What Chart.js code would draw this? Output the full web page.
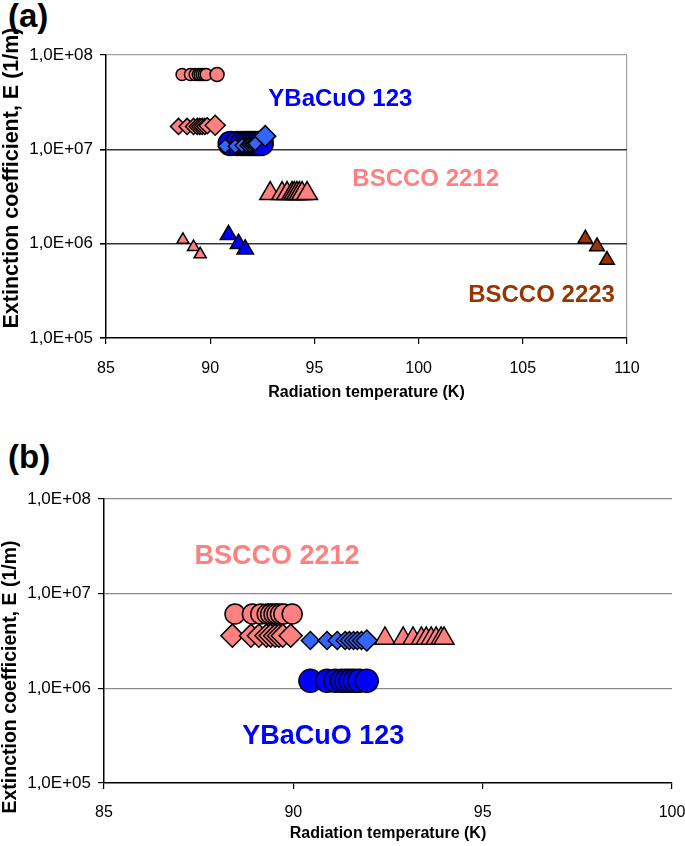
<!DOCTYPE html>
<html>
<head>
<meta charset="utf-8">
<script src="https://cdn.jsdelivr.net/npm/chart.js@4.4.1/dist/chart.umd.min.js"></script>
<style>
  body { margin: 0; width: 685px; height: 846px; overflow: hidden; background: #fff; }
  .panel-tag { position: absolute; left: 8px; font-family: 'Liberation Sans', Arial, sans-serif; font-weight: bold; font-size: 33px; line-height: 1; }
  canvas { position: absolute; left: 0; }
</style>
</head>
<body>
<div class="panel-tag" style="top:-1px">(a)</div>
<canvas id="chartA" width="685" height="420" style="top:0px"></canvas>
<div class="panel-tag" style="top:440px">(b)</div>
<canvas id="chartB" width="685" height="406" style="top:440px"></canvas>

<script>
'use strict'

const FONT = "'Liberation Sans', Arial, sans-serif"

const yTickValues = [1e5, 1e6, 1e7, 1e8]
const yTickLabels = ['1,0E+05', '1,0E+06', '1,0E+07', '1,0E+08']
const xTicksA = [85, 90, 95, 100, 105, 110]
const xTicksB = [85, 90, 95, 100]

const xTitle = 'Radiation temperature (K)'
const yTitle = 'Extinction coefficient, E (1/m)'
const labelsA = ['YBaCuO 123', 'BSCCO 2212', 'BSCCO 2223']
const labelsB = ['BSCCO 2212', 'YBaCuO 123']

// panel (a)
const aPinkCircleT = [88.65, 89.05, 89.28, 89.43, 89.52, 89.62, 89.72, 89.81, 90.33]
const aPinkCircleE = [6.2e7, 6.2e7, 6.2e7, 6.2e7, 6.2e7, 6.2e7, 6.2e7, 6.2e7, 6.2e7]
const aPinkDiamondT = [88.48, 88.89, 89.20, 89.38, 89.50, 89.62, 89.74, 89.86, 90.24]
const aPinkDiamondE = [1.75e7, 1.75e7, 1.75e7, 1.75e7, 1.75e7, 1.75e7, 1.75e7, 1.78e7, 1.8e7]
const aBlueCircleT = [90.96, 91.30, 91.54, 91.73, 91.88, 92.02, 92.17, 92.31, 92.45]
const aBlueCircleE = [1.15e7, 1.15e7, 1.15e7, 1.15e7, 1.15e7, 1.15e7, 1.15e7, 1.15e7, 1.15e7]
const aBlueDiamondT = [90.72, 91.20, 91.53, 91.77, 91.88, 92.00, 92.07, 92.16, 92.64]
const aBlueDiamondE = [1.08e7, 1.08e7, 1.1e7, 1.1e7, 1.12e7, 1.12e7, 1.14e7, 1.15e7, 1.38e7]
const aPinkTriT = [92.88, 93.45, 93.69, 93.93, 94.04, 94.16, 94.28, 94.41, 94.65]
const aPinkTriE = [3.4e6, 3.4e6, 3.4e6, 3.4e6, 3.4e6, 3.4e6, 3.4e6, 3.4e6, 3.4e6]
const aPinkSmallTriT = [88.69, 89.20, 89.52]
const aPinkSmallTriE = [1.10e6, 0.92e6, 0.77e6]
const aBlueTriT = [90.88, 91.36, 91.68]
const aBlueTriE = [1.24e6, 1.0e6, 0.87e6]
const aBrownTriT = [108.0, 108.56, 109.04]
const aBrownTriE = [1.13e6, 0.935e6, 0.67e6]

// panel (b)
const bPinkCircleT = [88.46, 88.92, 89.14, 89.31, 89.40, 89.49, 89.57, 89.66, 89.75, 89.97]
const bPinkCircleE = [6.1e6, 6.1e6, 6.1e6, 6.1e6, 6.1e6, 6.1e6, 6.1e6, 6.1e6, 6.1e6, 6.1e6]
const bPinkDiamondT = [88.39, 88.88, 89.09, 89.29, 89.40, 89.52, 89.62, 89.72, 89.93]
const bPinkDiamondE = [3.6e6, 3.6e6, 3.6e6, 3.6e6, 3.6e6, 3.6e6, 3.6e6, 3.6e6, 3.6e6]
const bBlueDiamondT = [90.45, 90.89, 91.16, 91.37, 91.48, 91.59, 91.69, 91.80, 91.94]
const bBlueDiamondE = [3.2e6, 3.2e6, 3.2e6, 3.2e6, 3.2e6, 3.2e6, 3.2e6, 3.2e6, 3.2e6]
const bBlueCircleT = [90.45, 90.89, 91.11, 91.28, 91.40, 91.51, 91.62, 91.74, 91.94]
const bBlueCircleE = [1.2e6, 1.2e6, 1.2e6, 1.2e6, 1.2e6, 1.2e6, 1.2e6, 1.2e6, 1.2e6]
const bPinkTriT = [92.42, 92.90, 93.16, 93.38, 93.51, 93.64, 93.77, 93.90, 93.98]
const bPinkTriE = [3.37e6, 3.37e6, 3.37e6, 3.37e6, 3.37e6, 3.37e6, 3.37e6, 3.37e6, 3.37e6]

const PINK = '#FF8080'
const BLUE = '#0000FF'
const LIGHTBLUE = '#3366FF'
const BROWN = '#993300'


document.addEventListener('DOMContentLoaded', () => {
    ChartA()
    ChartB()
})


function Points(t, e) {
    return t.map((v, i) => ({ x: v, y: e[i] }))
}

// last marker of a run is drawn a bit larger, like in the original
function GrowLast(r, rLast) {
    return c => c.dataIndex === c.dataset.data.length - 1 ? rLast : r
}

function Series(t, e, style, color, radius) {
    return {
        data: Points(t, e),
        showLine: false,
        pointStyle: style,
        pointRadius: radius,
        pointBackgroundColor: color,
        pointBorderColor: '#000',
        pointBorderWidth: 1.5
    }
}

const plotText = {
    id: 'plotText',
    afterDatasetsDraw(chart, args, opts) {
        const ctx = chart.ctx
        const sx = chart.scales.x
        const sy = chart.scales.y
        ctx.save()
        ctx.textAlign = 'left'
        ctx.textBaseline = 'middle'
        opts.items.forEach(it => {
            ctx.font = `bold ${it.size}px ${FONT}`
            ctx.fillStyle = it.color
            ctx.fillText(it.text, sx.getPixelForValue(it.x), sy.getPixelForValue(it.y))
        })
        const yt = opts.yTitle
        ctx.translate(yt.x, yt.y)
        ctx.rotate(-Math.PI / 2)
        ctx.textAlign = 'center'
        ctx.fillStyle = '#000'
        ctx.font = `bold ${yt.size}px ${FONT}`
        ctx.fillText(yTitle, 0, 0)
        ctx.restore()
    }
}

function Options(p) {
    const xMax = p.xTicks[p.xTicks.length - 1]
    return {
        responsive: false,
        animation: false,
        layout: { padding: { top: p.top, right: p.right, left: 0, bottom: 0 } },
        plugins: {
            legend: { display: false },
            tooltip: { enabled: false },
            plotText: { items: p.items, yTitle: p.yTitle }
        },
        scales: {
            x: {
                type: 'linear',
                min: p.xTicks[0],
                max: xMax,
                afterBuildTicks: s => { s.ticks = p.xTicks.map(v => ({ value: v })) },
                afterFit: s => { s.height = p.xHeight; s.paddingLeft = 0; s.paddingRight = 0 },
                grid: {
                    color: c => (p.rightBorder && c.tick && c.tick.value === xMax) ? '#a0a0a0' : 'rgba(0,0,0,0)',
                    tickColor: '#000',
                    tickLength: 6,
                    lineWidth: 1.2
                },
                border: { color: '#000', width: 1.5 },
                ticks: { color: '#000', font: { family: FONT, size: 16 }, padding: p.xTickPad, maxRotation: 0 },
                title: {
                    display: true,
                    text: xTitle,
                    color: '#000',
                    font: { family: FONT, size: 16, weight: 'bold' },
                    padding: { top: 0, bottom: p.xTitlePad }
                }
            },
            y: {
                type: 'logarithmic',
                min: 1e5,
                max: 1e8,
                afterBuildTicks: s => { s.ticks = yTickValues.map(v => ({ value: v })) },
                afterFit: s => { s.width = p.yWidth },
                grid: {
                    color: c => p.gridColor(c.tick ? c.tick.value : 0),
                    lineWidth: c => p.gridWidth(c.tick ? c.tick.value : 0),
                    tickColor: '#000',
                    tickLength: 6
                },
                border: { color: '#000', width: 1.5 },
                ticks: {
                    color: '#000',
                    font: { family: FONT, size: 17 },
                    padding: 7,
                    callback: v => yTickLabels[Math.round(Math.log10(v)) - 5]
                }
            }
        }
    }
}

function ChartA() {
    const ctx = document.getElementById('chartA').getContext('2d')
    new Chart(ctx, {
        type: 'scatter',
        data: {
            datasets: [
                Series(aBlueDiamondT, aBlueDiamondE, 'rectRot', LIGHTBLUE, GrowLast(7, 10.5)),
                Series(aBlueCircleT, aBlueCircleE, 'circle', BLUE, 12),
                Series(aPinkDiamondT, aPinkDiamondE, 'rectRot', PINK, GrowLast(8, 10)),
                Series(aPinkCircleT, aPinkCircleE, 'circle', PINK, GrowLast(6, 7)),
                Series(aPinkTriT, aPinkTriE, 'triangle', PINK, 12),
                Series(aPinkSmallTriT, aPinkSmallTriE, 'triangle', PINK, 7),
                Series(aBlueTriT, aBlueTriE, 'triangle', BLUE, 9.5),
                Series(aBrownTriT, aBrownTriE, 'triangle', BROWN, 8.5)
            ]
        },
        options: Options({
            xTicks: xTicksA,
            top: 55, right: 58, yWidth: 106, xHeight: 82,
            xTickPad: 15, xTitlePad: 18, rightBorder: true,
            gridColor: v => v === 1e8 ? '#a0a0a0' : (v === 1e5 ? 'rgba(0,0,0,0)' : '#333'),
            gridWidth: v => v === 1e8 ? 1.2 : 1.6,
            yTitle: { x: 12, y: 178, size: 21.5 },
            items: [
                { text: labelsA[0], x: 92.79, y: 3.4e7, color: BLUE, size: 24 },
                { text: labelsA[1], x: 96.82, y: 4.8e6, color: PINK, size: 24 },
                { text: labelsA[2], x: 102.38, y: 2.8e5, color: BROWN, size: 24 }
            ]
        }),
        plugins: [plotText]
    })
}

function ChartB() {
    const ctx = document.getElementById('chartB').getContext('2d')
    new Chart(ctx, {
        type: 'scatter',
        data: {
            datasets: [
                Series(bPinkTriT, bPinkTriE, 'triangle', PINK, 11.5),
                Series(bBlueDiamondT, bBlueDiamondE, 'rectRot', LIGHTBLUE, GrowLast(9, 10.5)),
                Series(bBlueCircleT, bBlueCircleE, 'circle', BLUE, 11.5),
                Series(bPinkDiamondT, bPinkDiamondE, 'rectRot', PINK, 11.5),
                Series(bPinkCircleT, bPinkCircleE, 'circle', PINK, 10)
            ]
        },
        options: Options({
            xTicks: xTicksB,
            top: 59, right: 9, yWidth: 104, xHeight: 63,
            xTickPad: 14, xTitlePad: 3, rightBorder: false,
            gridColor: v => v === 1e5 ? 'rgba(0,0,0,0)' : '#8c8c8c',
            gridWidth: v => 1.2,
            yTitle: { x: 11, y: 237, size: 19.5 },
            items: [
                { text: labelsB[0], x: 87.39, y: 2.48e7, color: PINK, size: 27 },
                { text: labelsB[1], x: 88.65, y: 3.08e5, color: BLUE, size: 27 }
            ]
        }),
        plugins: [plotText]
    })
}
</script>
</body>
</html>
